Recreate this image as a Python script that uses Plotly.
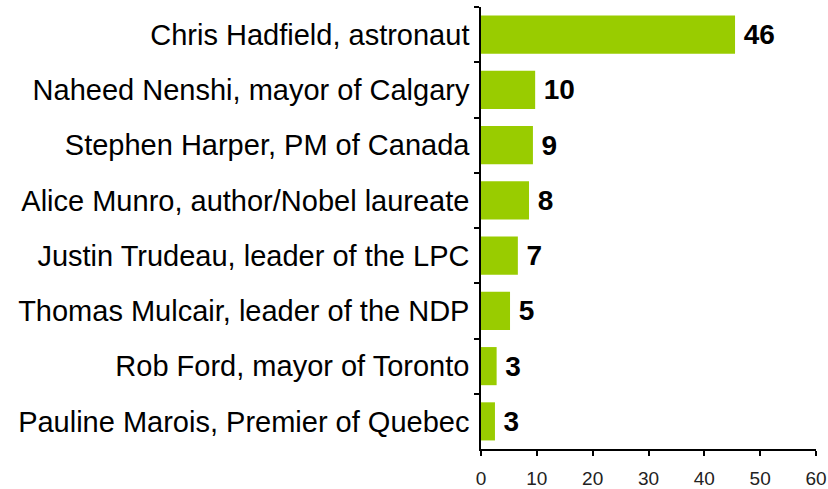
import plotly.graph_objects as go

# Most recognised Canadian public figures (share of mentions, %)
names = [
    "Chris Hadfield, astronaut",
    "Naheed Nenshi, mayor of Calgary",
    "Stephen Harper, PM of Canada",
    "Alice Munro, author/Nobel laureate",
    "Justin Trudeau, leader of the LPC",
    "Thomas Mulcair, leader of the NDP",
    "Rob Ford, mayor of Toronto",
    "Pauline Marois, Premier of Quebec",
]
values = [45.5, 9.7, 9.3, 8.6, 6.6, 5.2, 2.8, 2.5]
value_labels = ["46", "10", "9", "8", "7", "5", "3", "3"]
x_ticks = [0, 10, 20, 30, 40, 50, 60]

BAR_COLOR = "#99CC00"
FONT = "Liberation Sans, Arial, sans-serif"

fig = go.Figure(go.Bar(
    x=values,
    y=names,
    orientation="h",
    marker={"color": BAR_COLOR, "line": {"width": 0}},
    # thin space keeps the value label a few px off the bar end
    text=["\u2009" + t for t in value_labels],
    textposition="outside",
    textfont={"size": 28, "color": "#000000", "family": FONT, "weight": "bold"},
    cliponaxis=False,
))

fig.update_layout(
    width=828,
    height=489,
    paper_bgcolor="white",
    plot_bgcolor="white",
    showlegend=False,
    bargap=0.31,
    font={"family": FONT, "color": "#000000"},
    margin={"l": 481, "r": 12, "t": 7, "b": 40, "autoexpand": False},
    xaxis={
        "range": [0, 60],
        "tickvals": x_ticks,
        "automargin": False,
        "showgrid": False,
        "zeroline": False,
        "showline": True,
        "linecolor": "#000000",
        "linewidth": 1.5,
        "ticks": "outside",
        "ticklen": 5,
        "tickcolor": "#000000",
        "tickwidth": 1.5,
        "tickfont": {"size": 19, "color": "#222222"},
        "ticklabelstandoff": 6,
        "fixedrange": True,
    },
    yaxis={
        "autorange": "reversed",
        "automargin": False,
        "showgrid": False,
        "showline": True,
        "linecolor": "#000000",
        "linewidth": 1.5,
        "ticks": "outside",
        "tickson": "boundaries",
        "ticklen": 5,
        "tickcolor": "#000000",
        "tickwidth": 1.5,
        "tickfont": {"size": 29, "color": "#000000"},
        "ticklabelstandoff": 4,
        "fixedrange": True,
    },
)

# drop the default 8px body margin so the figure fills the window exactly
fig.write_html(
    "out.html",
    config={"displayModeBar": False},
    post_script="document.body.style.margin='0';document.body.style.overflow='hidden';",
)
